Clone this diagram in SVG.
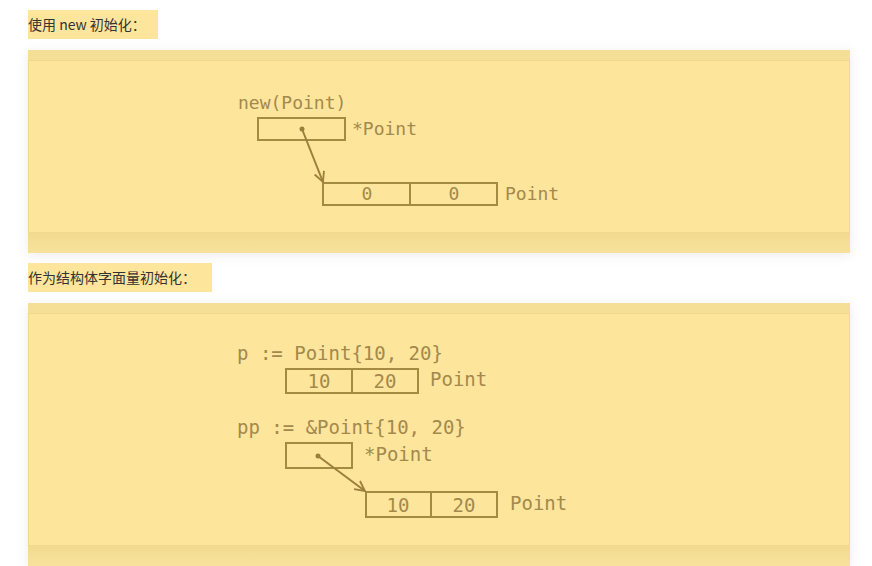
<svg xmlns="http://www.w3.org/2000/svg" width="872" height="566" viewBox="0 0 872 566">
<style>
.cap{font-family:"Noto Sans CJK SC","Liberation Sans",sans-serif;font-size:14px;fill:#333}
.hl{fill:#fee59c}
.panel{fill:#fde59c}
.strip{fill:#f5de96}
.edge{fill:none;stroke:#f0d88c;stroke-width:1}
.box{fill:none;stroke:#a58a42;stroke-width:2}
.m1{font-family:"DejaVu Sans Mono",monospace;font-size:18px;fill:#a3894c}
.m2{font-family:"DejaVu Sans Mono",monospace;font-size:19px;fill:#a3894c}
.ln{stroke:#9c7f3c;stroke-width:2;fill:none}
</style>
<defs>
<filter id="sh" x="-5%" y="-10%" width="110%" height="120%">
<feDropShadow dx="0" dy="2" stdDeviation="6" flood-color="#000" flood-opacity="0.08"/>
</filter>
<linearGradient id="bg" x1="0" y1="0" x2="0" y2="1">
<stop offset="0" stop-color="#f2da90"/><stop offset="1" stop-color="#f8e29b"/>
</linearGradient>
<marker id="ah" viewBox="0 0 12 12" refX="11" refY="6" markerWidth="12" markerHeight="12" markerUnits="userSpaceOnUse" orient="auto">
<path d="M1,1 L11,6 L1,11" fill="none" stroke="#9c7f3c" stroke-width="1.8"/>
</marker>
</defs>
<rect width="872" height="566" fill="#fff"/>

<g id="caption1">
<rect class="hl" x="28" y="10" width="130" height="29"/>
<text class="cap" x="28" y="30">使用 new 初始化：</text>
</g>

<g id="panel1" filter="url(#sh)">
<rect class="strip" x="28" y="50" width="822" height="203"/>
<rect fill="url(#bg)" x="28" y="233" width="822" height="20"/>
<rect class="panel" x="28.5" y="60.5" width="821" height="172"/>
<rect class="edge" x="28.5" y="60.5" width="821" height="172"/>
</g>

<g id="new-point">
<text class="m1" x="238" y="109">new(Point)</text>
<rect class="box" x="258" y="118" width="87" height="22"/>
<text class="m1" x="352" y="135">*Point</text>
<rect class="box" x="323" y="183" width="174" height="22"/>
<line class="box" x1="410" y1="183" x2="410" y2="205"/>
<text class="m1" x="367" y="200" text-anchor="middle">0</text>
<text class="m1" x="454" y="200" text-anchor="middle">0</text>
<text class="m1" x="505" y="200">Point</text>
</g>

<g id="caption2">
<rect class="hl" x="28" y="263" width="184" height="29"/>
<text class="cap" x="28" y="283">作为结构体字面量初始化：</text>
</g>

<g id="panel2" filter="url(#sh)">
<rect class="strip" x="28" y="303" width="822" height="263"/>
<rect fill="url(#bg)" x="28" y="546" width="822" height="20"/>
<rect class="panel" x="28.5" y="313.5" width="821" height="232"/>
<rect class="edge" x="28.5" y="313.5" width="821" height="232"/>
</g>

<g id="literal-p">
<text class="m2" x="237" y="360">p := Point{10, 20}</text>
<rect class="box" x="286" y="369" width="132" height="24"/>
<line class="box" x1="352" y1="369" x2="352" y2="393"/>
<text class="m2" x="319" y="388" text-anchor="middle">10</text>
<text class="m2" x="385" y="388" text-anchor="middle">20</text>
<text class="m2" x="430" y="386">Point</text>
</g>

<g id="literal-pp">
<text class="m2" x="237" y="434">pp := &amp;Point{10, 20}</text>
<rect class="box" x="286" y="443" width="66" height="25"/>
<text class="m2" x="364" y="461">*Point</text>
<rect class="box" x="366" y="492" width="131" height="25"/>
<line class="box" x1="431" y1="492" x2="431" y2="517"/>
<text class="m2" x="398" y="512" text-anchor="middle">10</text>
<text class="m2" x="464" y="512" text-anchor="middle">20</text>
<text class="m2" x="510" y="510">Point</text>
</g>

<g id="connectors">
<circle cx="302" cy="129" r="2.5" fill="#9c7f3c"/>
<line class="ln" x1="302" y1="129" x2="323" y2="182" marker-end="url(#ah)"/>
<circle cx="318" cy="456" r="2.5" fill="#9c7f3c"/>
<line class="ln" x1="318" y1="456" x2="365" y2="491" marker-end="url(#ah)"/>
</g>
</svg>
